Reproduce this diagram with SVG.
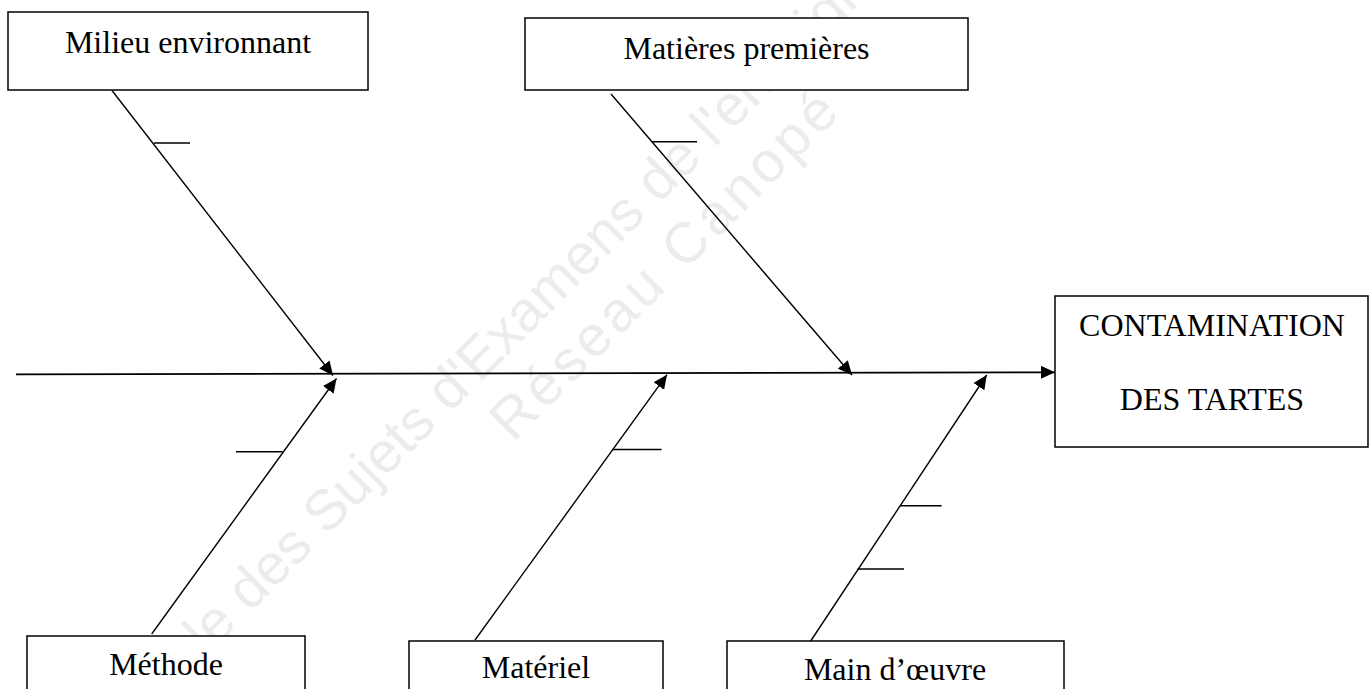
<svg xmlns="http://www.w3.org/2000/svg" width="1369" height="689" viewBox="0 0 1369 689">
<style>
.box{fill:#fff;stroke:#000;stroke-width:1.5}
.lbl{font-family:"Liberation Serif","Times New Roman",serif;font-size:32px;fill:#000;text-anchor:middle}
.bone{stroke:#000;stroke-width:1.4;fill:none}
.spine{stroke:#000;stroke-width:1.8;fill:none}
.tick{stroke:#000;stroke-width:1.4;fill:none}
.wm{font-family:"Liberation Sans","Noto Sans",sans-serif;font-size:57px;fill:#ececec}
</style>
<defs>
<marker id="ah" markerUnits="userSpaceOnUse" markerWidth="15" markerHeight="13" refX="14" refY="6.5" orient="auto" viewBox="0 0 15 13">
<path d="M0,0 L14,6.5 L0,13 z" fill="#000"/>
</marker>
</defs>
<rect width="1369" height="689" fill="#fff"/>
<g id="watermark">
<text class="wm" transform="translate(250,613) rotate(-45)" text-anchor="end" x="-16" y="0">Base Nationale</text>
<text class="wm" transform="translate(250,613) rotate(-45)" x="0" y="0">des Sujets d'Examens de l'enseignement professionnel</text>
<text class="wm" transform="translate(513,443) rotate(-45)" x="0" y="0" textLength="464" lengthAdjust="spacing">Réseau Canopé</text>
</g>
<g id="connectors">
<line class="spine" x1="16" y1="374.3" x2="1055" y2="372.3" marker-end="url(#ah)"/>
<line class="bone" x1="112" y1="90.5" x2="333" y2="375.5" marker-end="url(#ah)"/>
<line class="tick" x1="154" y1="143" x2="190" y2="143"/>
<line class="bone" x1="611" y1="94" x2="852" y2="375" marker-end="url(#ah)"/>
<line class="tick" x1="652" y1="141.7" x2="697" y2="141.7"/>
<line class="bone" x1="151.7" y1="634" x2="336.5" y2="378.5" marker-end="url(#ah)"/>
<line class="tick" x1="236" y1="451.7" x2="282.5" y2="451.7"/>
<line class="bone" x1="475" y1="640" x2="667" y2="374.7" marker-end="url(#ah)"/>
<line class="tick" x1="612.5" y1="449.5" x2="661.5" y2="449.5"/>
<line class="bone" x1="810.7" y1="641" x2="986.7" y2="375" marker-end="url(#ah)"/>
<line class="tick" x1="900" y1="505.7" x2="941.7" y2="505.7"/>
<line class="tick" x1="857.5" y1="569" x2="904" y2="569"/>
</g>
<g id="node-milieu">
<rect class="box" x="8" y="12" width="360" height="78"/>
<text class="lbl" x="188" y="53">Milieu environnant</text>
</g>
<g id="node-matieres">
<rect class="box" x="525" y="18" width="443" height="72"/>
<text class="lbl" x="746.5" y="59">Matières premières</text>
</g>
<g id="node-effet">
<rect class="box" x="1055" y="296" width="313" height="151"/>
<text class="lbl" x="1212" y="336">CONTAMINATION</text>
<text class="lbl" x="1212" y="410">DES TARTES</text>
</g>
<g id="node-methode">
<rect class="box" x="27" y="636" width="278" height="70"/>
<text class="lbl" x="166" y="675">Méthode</text>
</g>
<g id="node-materiel">
<rect class="box" x="409" y="641" width="254" height="70"/>
<text class="lbl" x="536" y="678">Matériel</text>
</g>
<g id="node-main">
<rect class="box" x="727" y="641" width="337" height="70"/>
<text class="lbl" x="895" y="680">Main d’œuvre</text>
</g>
</svg>
